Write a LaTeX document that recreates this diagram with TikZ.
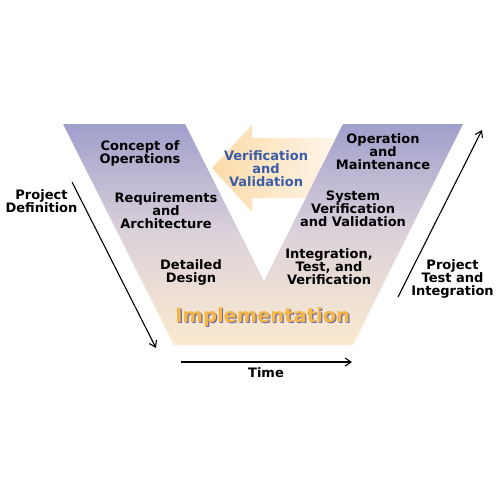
\documentclass[tikz,border=0pt]{standalone}
\usepackage{fontspec}
\setmainfont{DejaVu Sans}
\usetikzlibrary{arrows.meta}
\definecolor{vtop}{HTML}{A09FCC}
\definecolor{vmid}{HTML}{DCD2DA}
\definecolor{vbot}{HTML}{FBEACF}
\definecolor{aleft}{HTML}{FCDBA8}
\definecolor{aright}{HTML}{FEF7EF}
\definecolor{vvblue}{HTML}{3A5DA8}
\definecolor{implorange}{HTML}{F6B742}
\definecolor{implshadow}{HTML}{6C6AB0}
\begin{document}
\begin{tikzpicture}[x=1pt,y=-1pt,
  lbl/.style={font=\bfseries\fontsize{13}{13}\selectfont, align=center, inner sep=0pt},
  arr/.style={-{Straight Barb[length=6pt,width=8pt]}, line width=1.1pt}]
\path[use as bounding box] (0,0) rectangle (501,501);
% Verification and Validation arrow (behind V)
\path[left color=aleft, right color=aright]
  (212,168) -- (252,125) -- (252,138) -- (345,138) -- (345,198) -- (252,198) -- (252,212) -- cycle;
% V shape
\path[top color=vtop, bottom color=vbot, middle color=vmid]
  (63,124) -- (185,124) -- (264,281) -- (343,124) -- (463,124) -- (353,345) -- (174,345) -- cycle;
% texts
\node[lbl] (conops) at (140,153.5) {Concept of\\Operations};
\node[lbl] (req) at (166,210.5) {Requirements\\and\\Architecture};
\node[lbl] (dd) at (191,272.5) {Detailed\\Design};
\node[lbl, text=vvblue] (vv) at (266,168.5) {Verification\\and\\Validation};
\node[lbl] (om) at (383,151.5) {Operation\\and\\Maintenance};
\node[lbl] (svv) at (353,208.5) {System\\Verification\\and Validation};
\node[lbl] (itv) at (329,266.5) {Integration,\\Test, and\\Verification};
\node[lbl, font=\bfseries\fontsize{19.5}{20}\selectfont, text=implshadow] (implsh) at (264,318.5) {Implementation};
\node[lbl, font=\bfseries\fontsize{19.5}{20}\selectfont, text=implorange] (impl) at (262.8,317.3) {Implementation};
\node[lbl] (pd) at (41.5,201) {Project\\Definition};
\node[lbl] (pti) at (452.5,278.5) {Project\\Test and\\Integration};
\node[lbl] (time) at (266,373) {Time};
% arrows
\coordinate (l1) at (72,182);
\coordinate (l2) at (156,348);
\coordinate (r1) at (398,297);
\coordinate (r2) at (482,130);
\coordinate (t1) at (181,362);
\coordinate (t2) at (352,362);
\draw[arr] (l1) -- (l2);
\draw[arr] (r1) -- (r2);
\draw[arr] (t1) -- (t2);
\end{tikzpicture}
\end{document}
